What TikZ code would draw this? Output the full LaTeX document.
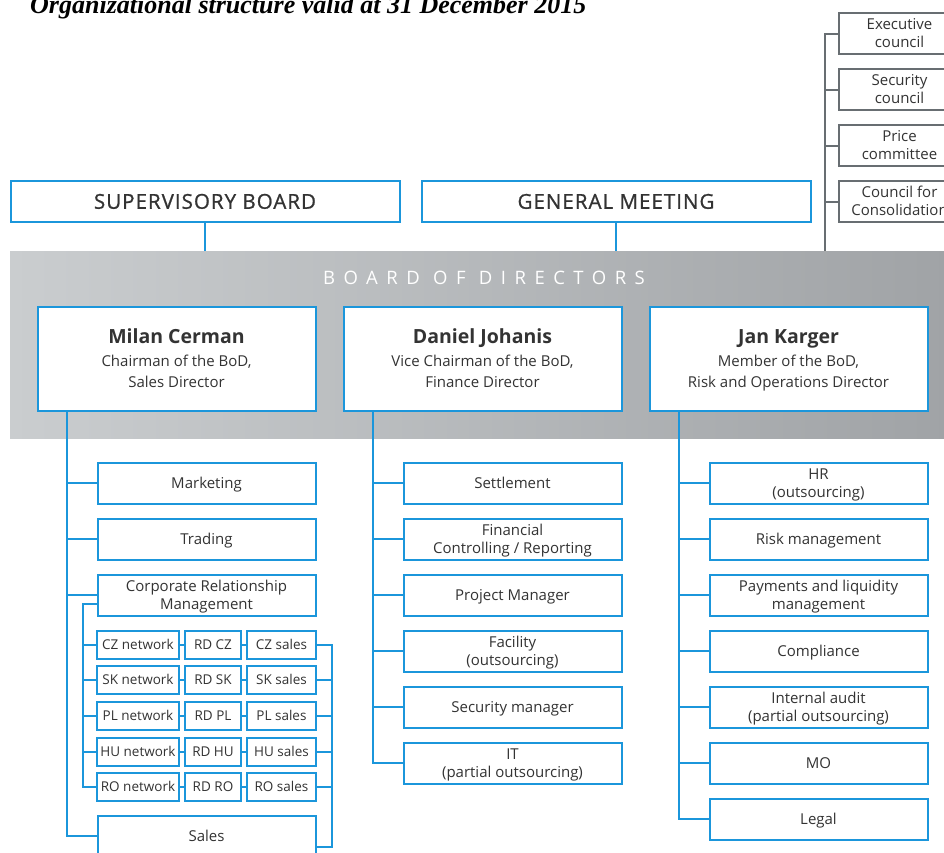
\documentclass[tikz,border=0pt]{standalone}
\usepackage{fontspec}
\setmainfont{Open Sans}
\newfontfamily\titlefont{Liberation Serif}
\definecolor{bdblue}{RGB}{27,150,219}
\definecolor{bdgray}{RGB}{104,110,114}
\definecolor{bdtext}{RGB}{51,51,51}
\definecolor{bandL}{RGB}{202,205,207}
\definecolor{bandR}{RGB}{160,163,166}

\tikzset{
	unit/.style={draw=bdblue, line width=2pt, fill=white, text=bdtext, align=center, inner sep=0pt, minimum width=218pt, minimum height=41pt, text height=10.8pt, text depth=0pt, font=\fontsize{15}{18}\selectfont},
	two/.style={text height=28.8pt},
	cell/.style={unit, minimum height=28pt, text height=9.6pt, font=\fontsize{13.5}{16}\selectfont},
	head/.style={unit, minimum width=389pt, text height=14.5pt, font=\fontsize{20.5}{24}\selectfont\addfontfeature{FakeBold=1,LetterSpace=5}},
	member/.style={unit, minimum width=278pt, minimum height=104pt, text height=57pt, text depth=0pt, font=\fontsize{15}{21}\selectfont},
	council/.style={unit, two, draw=bdgray, minimum width=121pt},
	link/.style={bdblue, line width=2pt},
	glink/.style={bdgray, line width=2pt}
}

\begin{document}
\begin{tikzpicture}[x=1pt,y=-1pt]
\useasboundingbox (0,0) rectangle (944,852);

\node (title) at (30,13) [anchor=base west, inner sep=0pt, font=\titlefont\bfseries\itshape\fontsize{26}{30}\selectfont] {Organizational structure valid at 31 December 2015};

% board band
\node (band) at (480,344.5) [minimum width=940pt, minimum height=187pt, inner sep=0pt, left color=bandL, right color=bandR] {};
\node (bodlabel) at (484,278) [text=white, font=\fontsize{18.5}{22}\selectfont\addfontfeature{LetterSpace=46}] {BOARD OF DIRECTORS};

\node (sb) at (205,201.5) [head] {SUPERVISORY BOARD};
\node (gm) at (616,201.5) [head] {GENERAL MEETING};
\draw [link] (sb.south) -- (sb.south |- band.north);
\draw [link] (gm.south) -- (gm.south |- band.north);

% councils
\node (exec) at (899.5,33.5) [council] {Executive\\council};
\node (secc) at (899.5,89.5) [council] {Security\\council};
\node (price) at (899.5,145.5) [council] {Price\\committee};
\node (cons) at (899.5,201.5) [council] {Council for\\Consolidation};
\draw [glink] (exec.west) -- ++(-13,0) coordinate (cline) -- (cline |- band.north);
\draw [glink] (secc.west) -- ++(-13,0);
\draw [glink] (price.west) -- ++(-13,0);
\draw [glink] (cons.west) -- ++(-13,0);

% directors
\node (mc) at (176.5,358.5) [member] {{\fontsize{19.5}{24}\selectfont\bfseries Milan Cerman}\\[2pt]Chairman of the BoD,\\Sales Director};
\node (dj) at (482.5,358.5) [member] {{\fontsize{19.5}{24}\selectfont\bfseries Daniel Johanis}\\[2pt]Vice Chairman of the BoD,\\Finance Director};
\node (jk) at (788.5,358.5) [member] {{\fontsize{19.5}{24}\selectfont\bfseries Jan Karger}\\[2pt]Member of the BoD,\\Risk and Operations Director};

% sales director
\node (mkt) at (206.5,483) [unit] {Marketing};
\node (trd) at (206.5,539) [unit] {Trading};
\node (crm) at (206.5,595) [unit, two] {Corporate Relationship\\Management};
\node (sales) at (206.5,836) [unit] {Sales};
\draw [link] ([xshift=30pt]mc.south west) |- (sales.west);
\draw [link] (mkt.west) -- ++(-30,0);
\draw [link] (trd.west) -- ++(-30,0);
\draw [link] (crm.west) -- ++(-30,0);

\foreach \cc/\y [count=\i] in {CZ/645,SK/680,PL/716,HU/752,RO/787}{
  \node (net\i) at (138,\y) [cell, minimum width=82pt] {\cc{} network};
  \node (rd\i) at (213,\y) [cell, minimum width=56pt] {RD \cc};
  \node (sal\i) at (281.5,\y) [cell, minimum width=69pt] {\cc{} sales};
  \draw [link] (net\i) -- (rd\i);
  \draw [link] (rd\i) -- (sal\i);
  \draw [link] (net\i.west) -- ++(-14,0);
  \draw [link] (sal\i.east) -- ++(15,0);
}
\draw [link] ([yshift=-9pt]crm.west) -- ++(-14,0) |- (net5.west);
\draw [link] (sal1.east) -- ++(15,0) |- ([yshift=-11pt]sales.east);

% finance director
\node (stl) at (512.5,483) [unit] {Settlement};
\node (fin) at (512.5,539) [unit, two] {Financial\\Controlling / Reporting};
\node (pm) at (512.5,595) [unit] {Project Manager};
\node (fac) at (512.5,651) [unit, two] {Facility\\(outsourcing)};
\node (secm) at (512.5,707) [unit] {Security manager};
\node (it) at (512.5,763) [unit, two] {IT\\(partial outsourcing)};
\draw [link] ([xshift=30pt]dj.south west) |- (it.west);
\foreach \n in {stl,fin,pm,fac,secm}
  \draw [link] (\n.west) -- ++(-30,0);

% risk and operations director
\node (hr) at (818.5,483) [unit, two] {HR\\(outsourcing)};
\node (risk) at (818.5,539) [unit] {Risk management};
\node (pay) at (818.5,595) [unit, two] {Payments and liquidity\\management};
\node (comp) at (818.5,651) [unit] {Compliance};
\node (audit) at (818.5,707) [unit, two] {Internal audit\\(partial outsourcing)};
\node (mo) at (818.5,763) [unit] {MO};
\node (legal) at (818.5,819) [unit] {Legal};
\draw [link] ([xshift=30pt]jk.south west) |- (legal.west);
\foreach \n in {hr,risk,pay,comp,audit,mo}
  \draw [link] (\n.west) -- ++(-30,0);

\end{tikzpicture}
\end{document}
